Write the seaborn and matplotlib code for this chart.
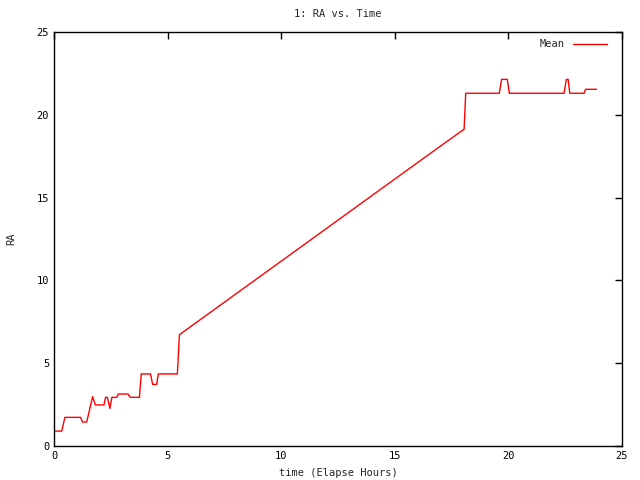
import pandas as pd
import matplotlib
matplotlib.use("Agg")
import matplotlib.pyplot as plt
import seaborn as sns

# Values (elapsed hours, mean RA)
time_hours = [0.00, 0.34, 0.48, 1.17, 1.25, 1.44, 1.70, 1.82, 2.20, 2.27, 2.35,
              2.46, 2.55, 2.76, 2.83, 3.26, 3.35, 3.76, 3.84, 4.25, 4.34, 4.52,
              4.59, 5.43, 5.52, 8.00, 10.00, 12.50, 15.00, 17.00, 18.00, 18.05,
              18.12, 19.60, 19.70, 19.95, 20.04, 22.45, 22.55, 22.63, 22.70,
              23.33, 23.40, 23.88]
ra_mean = [0.90, 0.90, 1.73, 1.73, 1.45, 1.45, 2.98, 2.48, 2.48, 2.94, 2.94,
           2.27, 2.94, 2.94, 3.14, 3.14, 2.94, 2.94, 4.35, 4.35, 3.72, 3.72,
           4.35, 4.35, 6.72, 9.18, 11.16, 13.64, 16.12, 18.10, 19.08, 19.12,
           21.30, 21.30, 22.14, 22.14, 21.30, 21.30, 22.14, 22.14, 21.30,
           21.30, 21.54, 21.54]

df = pd.DataFrame({"time": time_hours, "RA": ra_mean})

sns.set_style("white")
plt.rcParams["font.family"] = ["DejaVu Sans Mono"]
plt.rcParams["font.size"] = 7.5

fig = plt.figure(figsize=(6.4, 4.8), dpi=100)
ax = fig.add_axes([54 / 640, 1 - 446 / 480, 568 / 640, 414 / 480])

sns.lineplot(data=df, x="time", y="RA", color="red", linewidth=1,
             label="Mean", ax=ax)

ax.set_xlim(0, 25)
ax.set_ylim(0, 25)
ax.set_xticks(range(0, 26, 5))
ax.set_yticks(range(0, 26, 5))
ax.tick_params(direction="in", length=5, width=1, top=True, right=True,
               colors="black", labelsize=7.5)
for s in ax.spines.values():
    s.set_color("black")
    s.set_linewidth(1)

ax.set_title("1: RA vs. Time", fontsize=7.5, pad=11)
ax.set_xlabel("time (Elapse Hours)", fontsize=7.5, labelpad=5)
ax.set_ylabel("RA", fontsize=7.5, labelpad=15)

leg = ax.legend(loc="upper right", frameon=False, fontsize=7.5,
                markerfirst=False, handlelength=3.2, borderaxespad=0.3,
                bbox_to_anchor=(1 - 8 / 568, 1))

plt.savefig("out.png", dpi=100)
